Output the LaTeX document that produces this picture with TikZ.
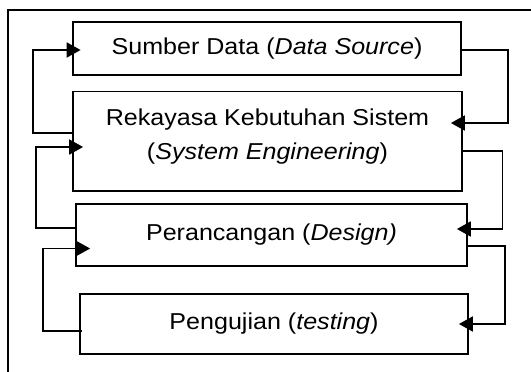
\documentclass[tikz,border=0pt]{standalone}
\usepackage{fontspec}
\newfontfamily\diagfont{Liberation Sans}[FakeStretch=1.09]
\usetikzlibrary{arrows.meta}
\begin{document}
\begin{tikzpicture}[x=1pt,y=-1pt,
  every node/.style={font=\diagfont\fontsize{23}{34}\selectfont},
  box/.style={draw,line width=1.7pt,rectangle,inner sep=0pt},
  conn/.style={line width=1.8pt,-{Triangle[length=14pt,width=15pt]}},
  frameline/.style={line width=1.6pt}]
\useasboundingbox (0,0) rectangle (531,372);
\draw[frameline] (8,372) -- (8,10) -- (531,10);
\node[box,minimum width=388pt,minimum height=53pt] (b1) at (267,48.5) {Sumber Data (\textit{Data Source})};
\node[box,minimum width=389pt,minimum height=99.5pt] (b2) at (267.5,141.25) {};
\node[inner sep=0pt,align=center,anchor=north] (t2) at (267.5,109) {Rekayasa Kebutuhan Sistem\\(\textit{System Engineering})};
\node[box,minimum width=391pt,minimum height=62pt] (b3) at (271.5,235) {Perancangan (\textit{Design)}};
\node[box,minimum width=388pt,minimum height=60pt] (b4) at (274,324) {Pengujian (\textit{testing})};
% left feedback arrows
\draw[conn,shorten >=-8.5pt] (b2.west |- 0,132.7) -- (33,132.7) -- (33,50) -- (b1.west |- 0,50);
\draw[conn,shorten >=-11pt] (b3.west |- 0,228) -- (36,228) -- (36,147) -- (b2.west |- 0,147);
\draw[conn,shorten >=-15pt] ([xshift=3pt]b4.west |- 0,331) -- (43,331) -- (43,248.5) -- (b3.west |- 0,248.5);
% right forward arrows
\draw[conn,shorten >=-12pt] (b1.east |- 0,50) -- (508,50) -- (508,123) -- (b2.east |- 0,123);
\draw[conn,shorten >=-11pt] (b2.east |- 0,151) -- (502.5,151) -- (502.5,229) -- (b3.east |- 0,229);
\draw[conn,shorten >=-10pt] (b3.east |- 0,246) -- (505,246) -- (505,324) -- (b4.east |- 0,324);
\end{tikzpicture}
\end{document}
